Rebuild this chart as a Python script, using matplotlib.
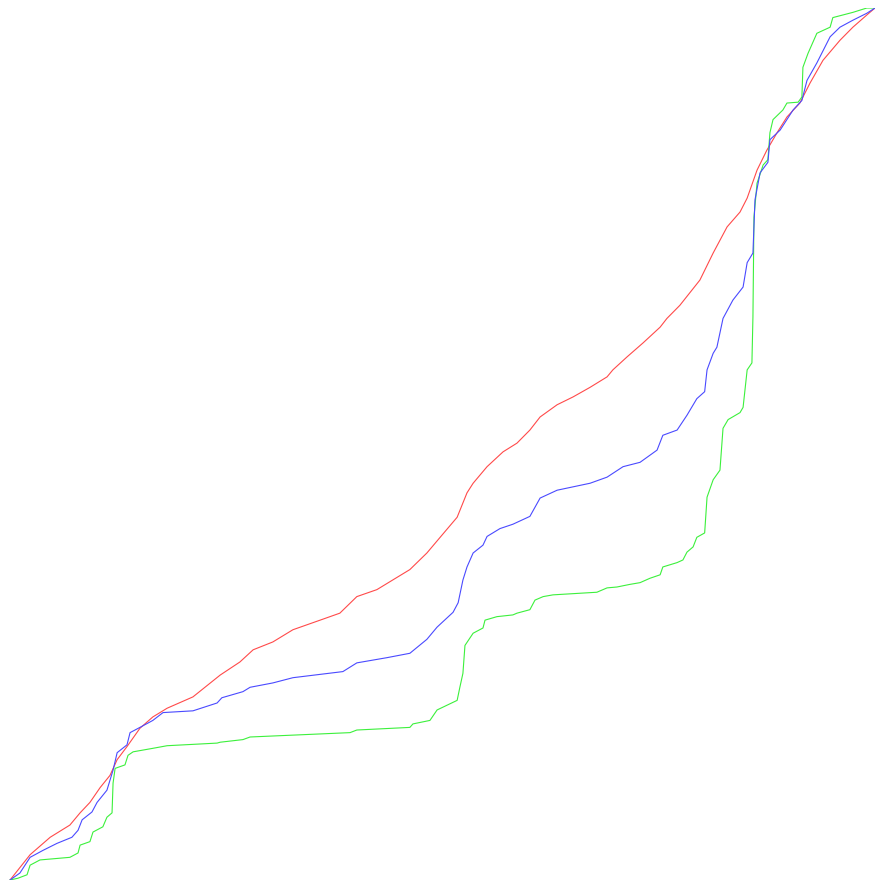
import matplotlib
matplotlib.use('Agg')
import matplotlib.pyplot as plt

# Cumulative distribution of pixel intensity (0-255) per colour channel
red_x = [0.6, 6.5, 12.4, 18.2, 21.2, 24.1, 27.1, 30.0, 32.1, 35.0, 38.8, 42.6,
         46.8, 54.4, 62.4, 68.2, 72.1, 77.9, 83.8, 91.8, 97.6, 102.6, 108.5,
         114.4, 118.2, 123.2, 127.1, 132.1, 135.0, 136.8, 140.9, 145.6, 149.7,
         153.5, 156.5, 161.5, 166.2, 171.2, 176.2, 177.9, 182.1, 186.8, 191.8,
         193.8, 197.6, 203.5, 207.4, 211.5, 215.3, 217.4, 220.3, 223.2, 226.2,
         229.1, 232.9, 235.9, 239.7, 244.7, 248.5, 252.6, 255.0]
red_cdf = [0.0, 0.029, 0.049, 0.063, 0.077, 0.089, 0.106, 0.120, 0.138, 0.153,
           0.174, 0.187, 0.197, 0.210, 0.235, 0.250, 0.264, 0.273, 0.287, 0.298,
           0.306, 0.325, 0.333, 0.347, 0.356, 0.375, 0.393, 0.416, 0.444, 0.455,
           0.474, 0.491, 0.501, 0.516, 0.531, 0.545, 0.554, 0.565, 0.577, 0.585,
           0.600, 0.616, 0.634, 0.644, 0.659, 0.688, 0.719, 0.749, 0.766, 0.782,
           0.814, 0.837, 0.857, 0.875, 0.891, 0.914, 0.940, 0.963, 0.978, 0.992,
           1.0]

green_x = [0.6, 2.9, 5.6, 6.5, 9.4, 18.2, 20.6, 21.2, 24.1, 25.0, 27.9, 29.1,
           30.6, 30.9, 31.5, 34.4, 35.3, 36.8, 42.6, 46.8, 61.5, 62.4, 69.1,
           71.2, 100.6, 102.6, 118.2, 119.1, 124.1, 126.2, 132.1, 132.9, 133.8,
           134.4, 136.8, 139.7, 140.3, 143.8, 148.5, 149.7, 153.5, 155.0, 157.4,
           160.3, 173.2, 176.2, 179.1, 182.9, 185.9, 188.8, 191.8, 192.6, 196.8,
           198.5, 199.7, 201.5, 202.6, 204.9, 205.6, 207.4, 209.4, 210.3, 211.8,
           215.3, 216.2, 217.4, 218.8, 219.1, 219.4, 220.3, 222.1, 223.5, 224.1,
           225.0, 227.9, 229.1, 232.4, 233.5, 233.8, 235.3, 237.9, 241.8, 242.6,
           248.5, 252.6, 255.0]
green_cdf = [0.0, 0.002, 0.006, 0.017, 0.023, 0.026, 0.031, 0.040, 0.044, 0.055,
             0.061, 0.072, 0.077, 0.111, 0.128, 0.132, 0.143, 0.147, 0.151,
             0.154, 0.157, 0.158, 0.161, 0.164, 0.169, 0.172, 0.175, 0.179,
             0.183, 0.195, 0.206, 0.221, 0.237, 0.269, 0.283, 0.289, 0.298,
             0.302, 0.304, 0.306, 0.310, 0.321, 0.325, 0.327, 0.330, 0.335,
             0.336, 0.339, 0.341, 0.346, 0.350, 0.359, 0.364, 0.367, 0.376,
             0.382, 0.393, 0.398, 0.439, 0.459, 0.470, 0.518, 0.528, 0.536,
             0.542, 0.585, 0.593, 0.646, 0.760, 0.799, 0.820, 0.826, 0.857,
             0.872, 0.883, 0.891, 0.892, 0.898, 0.932, 0.948, 0.971, 0.978,
             0.989, 0.995, 1.0, 1.0]

blue_x = [0.6, 3.5, 6.5, 10.3, 14.4, 18.8, 20.6, 21.8, 24.7, 26.2, 29.1, 30.9,
          32.1, 35.0, 35.9, 38.8, 42.6, 45.6, 54.4, 61.5, 62.9, 69.1, 71.2,
          77.9, 83.8, 98.5, 102.6, 111.5, 118.2, 123.2, 126.2, 130.9, 132.4,
          133.8, 135.0, 136.8, 139.7, 140.9, 144.7, 148.5, 153.5, 156.5, 161.5,
          171.2, 176.2, 180.9, 185.9, 190.9, 192.6, 196.8, 199.7, 202.6, 204.9,
          205.6, 207.4, 208.5, 210.3, 213.2, 216.2, 217.4, 219.1, 219.7, 221.2,
          223.5, 224.1, 227.1, 230.9, 233.5, 235.0, 237.9, 241.8, 244.7, 248.5,
          252.6, 255.0]
blue_cdf = [0.0, 0.008, 0.026, 0.034, 0.042, 0.049, 0.057, 0.069, 0.078, 0.089,
            0.103, 0.126, 0.146, 0.155, 0.169, 0.175, 0.183, 0.192, 0.194,
            0.203, 0.209, 0.216, 0.221, 0.226, 0.232, 0.239, 0.249, 0.255,
            0.260, 0.276, 0.290, 0.307, 0.318, 0.344, 0.359, 0.375, 0.384,
            0.394, 0.403, 0.408, 0.417, 0.438, 0.447, 0.455, 0.462, 0.474,
            0.479, 0.493, 0.510, 0.516, 0.533, 0.552, 0.560, 0.585, 0.604,
            0.611, 0.644, 0.665, 0.680, 0.708, 0.719, 0.780, 0.811, 0.823,
            0.849, 0.860, 0.883, 0.894, 0.917, 0.937, 0.967, 0.978, 0.986,
            0.994, 1.0]

fig = plt.figure(figsize=(8.75, 8.83), dpi=100)
ax = fig.add_axes([8 / 875, 3 / 883, 867 / 875, 872 / 883])
ax.plot(red_x, red_cdf, color='#ff4a4a', lw=0.8)
ax.plot(green_x, green_cdf, color='#3cf03c', lw=0.8)
ax.plot(blue_x, blue_cdf, color='#4a4aff', lw=0.8)
ax.set_xlim(0, 255)
ax.set_ylim(0, 1)
ax.axis('off')

fig.savefig('out.png', dpi=100, facecolor='white')
